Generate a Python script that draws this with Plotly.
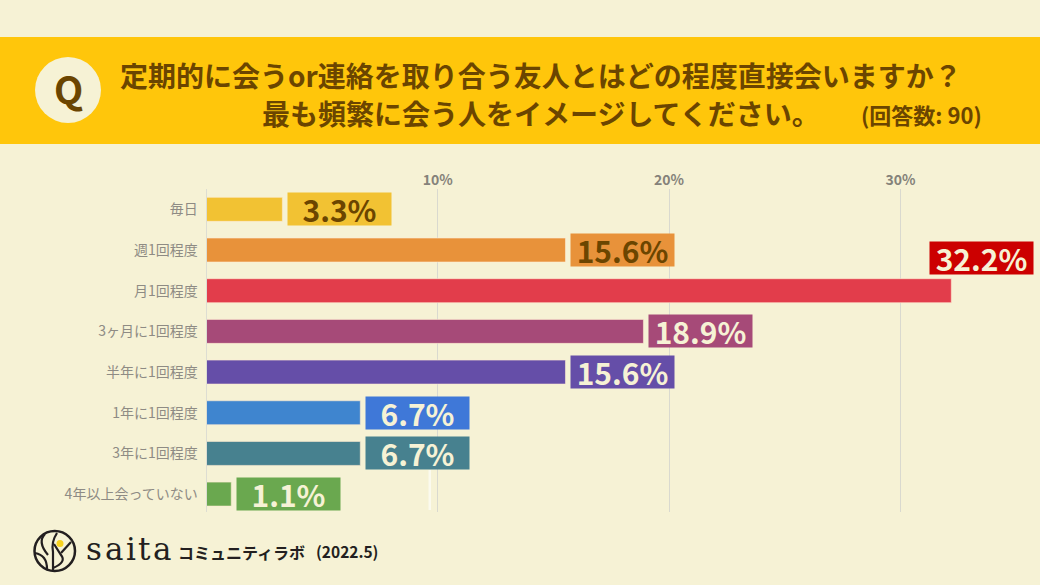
import plotly.graph_objects as go

categories = ["毎日", "週1回程度", "月1回程度", "3ヶ月に1回程度", "半年に1回程度", "1年に1回程度", "3年に1回程度", "4年以上会っていない"]
values = [3.28, 15.52, 32.2, 18.89, 15.52, 6.65, 6.65, 1.07]
value_labels = ["3.3%", "15.6%", "32.2%", "18.9%", "15.6%", "6.7%", "6.7%", "1.1%"]
bar_colors = ["#F2C233", "#E8923A", "#E23D4B", "#A64A78", "#654EA8", "#3F85CF", "#47818F", "#6AA84F"]
label_bg = ["#F2C233", "#E8923A", "#CC0000", "#A64A78", "#654EA8", "#3F78D8", "#47818F", "#6AA84F"]
label_fg = ["#6B4500", "#6B4500", "#F6F2D5", "#F6F2D5", "#F6F2D5", "#F6F2D5", "#F6F2D5", "#F6F2D5"]
x_ticks = [10, 20, 30]
x_tick_text = ["10%", "20%", "30%"]

BG = "#F6F2D5"
BANNER = "#FFC60B"
BROWN = "#6B4500"
JP = "Noto Sans CJK JP"
W, H = 1040, 585
X0, PX = 206.5, 23.13
TOP, BOT = 189, 512


def px(x):
    return x / W


def py(y):
    return 1 - y / H


fig = go.Figure(go.Bar(
    x=values, y=categories, orientation="h",
    marker=dict(color=bar_colors, line=dict(color="rgba(255,235,210,0.6)", width=1)),
    width=24 / 40.7, hoverinfo="skip",
))

shapes = [
    dict(type="rect", xref="paper", yref="paper", x0=0, x1=1, y0=py(144), y1=py(37),
         fillcolor=BANNER, line_width=0, layer="below"),
    dict(type="circle", xref="paper", yref="paper", x0=px(35), x1=px(101), y0=py(123), y1=py(57),
         fillcolor=BG, line_width=0),
    # logo
    dict(type="circle", xref="paper", yref="paper", x0=px(34.5), x1=px(75), y0=py(571), y1=py(531),
         line=dict(color="#231F20", width=2.5)),
    dict(type="circle", xref="paper", yref="paper", x0=px(56.5), x1=px(63.5), y0=py(547), y1=py(540),
         fillcolor="#F7D21E", line_width=0),
    dict(type="path", xref="paper", yref="paper",
         path=f"M {px(53)} {py(570)} L {px(53)} {py(552)} Q {px(51)} {py(542)} {px(57)} {py(533)}",
         line=dict(color="#231F20", width=2.2)),
    dict(type="path", xref="paper", yref="paper",
         path=f"M {px(53)} {py(568)} Q {px(67)} {py(562)} {px(61)} {py(555)} L {px(54)} {py(544)}",
         line=dict(color="#231F20", width=2.2)),
    dict(type="path", xref="paper", yref="paper",
         path=f"M {px(61)} {py(553)} L {px(71)} {py(542)}",
         line=dict(color="#231F20", width=2.2)),
    dict(type="path", xref="paper", yref="paper",
         path=f"M {px(35)} {py(553)} Q {px(47)} {py(555)} {px(47)} {py(569)}",
         line=dict(color="#231F20", width=2.2)),
    dict(type="path", xref="paper", yref="paper",
         path=f"M {px(45)} {py(534)} Q {px(37)} {py(542)} {px(48)} {py(555)}",
         line=dict(color="#231F20", width=2.2)),
    # faint streak near the foot of the 10% gridline
    dict(type="rect", xref="paper", yref="paper", x0=px(428.5), x1=px(431), y0=py(510), y1=py(470),
         fillcolor="rgba(255,255,255,0.6)", line_width=0),
]

ann = [
    dict(text="Q", x=px(68), y=py(87), font=dict(size=38, color=BROWN, family=JP, weight="bold")),
    dict(text="定期的に会うor連絡を取り合う友人とはどの程度直接会いますか？", x=px(118.5), y=py(75), xanchor="left",
         font=dict(size=28, color=BROWN, family=JP, weight="bold")),
    dict(text="最も頻繁に会う人をイメージしてください。", x=px(260.5), y=py(113), xanchor="left",
         font=dict(size=28, color=BROWN, family=JP, weight="bold")),
    dict(text="(回答数: 90)", x=px(859.5), y=py(114), xanchor="left",
         font=dict(size=22, color=BROWN, family=JP, weight="bold")),
    dict(text="コミュニティラボ", x=px(177), y=py(552), xanchor="left",
         font=dict(size=16, color="#231F20", family=JP, weight="bold")),
    dict(text="(2022.5)", x=px(315), y=py(551), xanchor="left",
         font=dict(size=15.5, color="#231F20", family=JP, weight="bold")),
]
for ch, xc in zip("saita", [93.5, 114, 131, 144, 161.5]):
    ann.append(dict(text=ch, x=px(xc), y=py(549), font=dict(size=31, color="#231F20", family="DejaVu Serif")))
for a in ann:
    a.update(xref="paper", yref="paper", showarrow=False, borderpad=0, yanchor="middle")
    a.setdefault("xanchor", "center")

for i, (c, v) in enumerate(zip(categories, values)):
    far = v > 30
    ann.append(dict(
        x=v, y=c, xref="x", yref="y", showarrow=False,
        text=value_labels[i], width=103, height=32, align="center", valign="middle",
        xanchor="left", yanchor="middle", xshift=-22 if far else 5, yshift=33 if far else 0,
        bgcolor=label_bg[i], borderpad=0,
        font=dict(size=30, color=label_fg[i], family=JP, weight="bold"),
    ))

fig.update_layout(
    width=W, height=H, autosize=False, showlegend=False,
    paper_bgcolor=BG, plot_bgcolor=BG,
    margin=dict(l=0, r=0, t=0, b=0),
    shapes=shapes, annotations=ann,
    font=dict(family=JP),
    xaxis=dict(domain=[X0 / W, 1], range=[0, (W - X0) / PX], side="top",
               tickvals=x_ticks, ticktext=x_tick_text, ticks="",
               tickfont=dict(size=14, color="#85827A", family=JP, weight="bold"),
               showgrid=True, gridcolor="#D9D9CF", gridwidth=1, zeroline=False, showline=False),
    yaxis=dict(domain=[py(BOT), py(TOP)], range=[7.44, -0.5], type="category",
               tickfont=dict(size=14, color="#8E8B84", family=JP),
               ticks="", ticklabelstandoff=5,
               showgrid=False, zeroline=False, showline=True, linecolor="#DDDDD2", linewidth=1),
)

fig.write_html("out.html", config=dict(displayModeBar=False),
               post_script="document.documentElement.style.margin='0';document.body.style.margin='0';document.body.style.background='#F6F2D5';")
